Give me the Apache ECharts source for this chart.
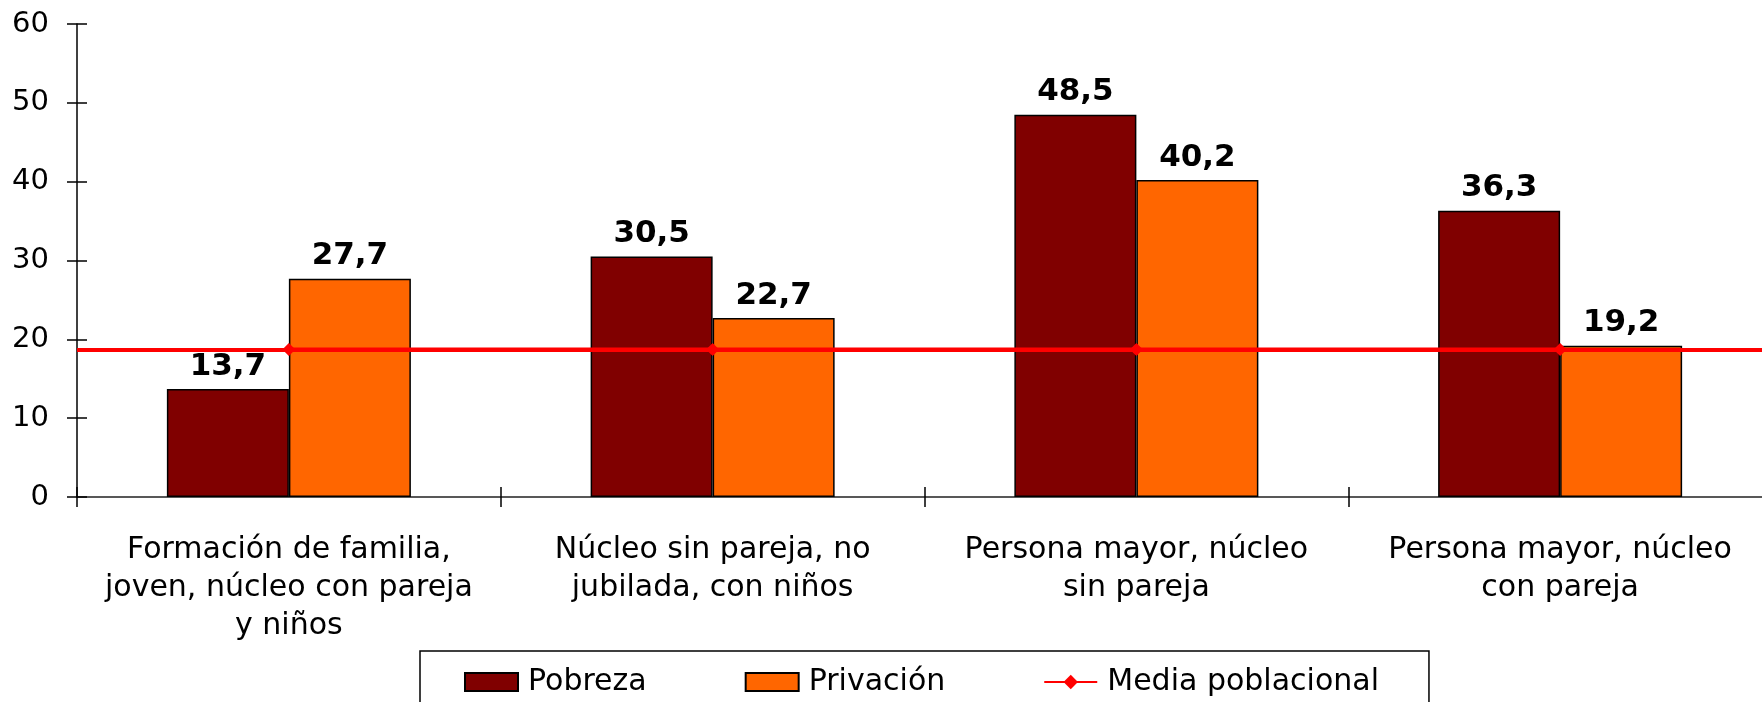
<!DOCTYPE html>
<html>
<head>
<meta charset="utf-8">
<title>Pobreza y privación</title>
<script src="https://cdn.jsdelivr.net/npm/echarts@6/dist/echarts.min.js"></script>
<style>
  html, body { margin: 0; padding: 0; background: #fff; }
  #chart { width: 1762px; height: 702px; }
</style>
</head>
<body>
<div id="chart"></div>
<script>
// datos
const categorias = [
    'Formación de familia,\njoven, núcleo con pareja\ny niños',
    'Núcleo sin pareja, no\njubilada, con niños',
    'Persona mayor, núcleo\nsin pareja',
    'Persona mayor, núcleo\ncon pareja'
];
const pobreza = [13.7, 30.5, 48.5, 36.3];
const privacion = [27.7, 22.7, 40.2, 19.2];
const mediaPoblacional = [18.7, 18.7, 18.7, 18.7];
const ejeY = { min: 0, max: 60, interval: 10 };

const fuente = 'DejaVu Sans';

let myChart = echarts.init(document.getElementById('chart'));

function coma(v) {
    return v.toFixed(1).replace('.', ',');
}

const etiquetaBarra = {
    show: true,
    position: 'top',
    distance: 7,
    fontFamily: fuente,
    fontWeight: 'bold',
    fontSize: 31,
    color: '#000',
    formatter: p => coma(p.value)
};

let option = {
    animation: false,
    backgroundColor: '#fff',
    grid: { left: 77, right: -10, top: 24, bottom: 205, containLabel: false, outerBoundsMode: 'none' },
    legend: {
        left: 420,
        top: 651,
        padding: [16, 50, 30, 44],
        borderColor: '#000',
        borderWidth: 1.5,
        itemWidth: 53,
        itemHeight: 18,
        itemGap: 98,
        textStyle: { fontFamily: fuente, fontSize: 30, color: '#000', padding: [0, 0, 0, 5] },
        data: [
            { name: 'Pobreza', icon: 'rect' },
            { name: 'Privación', icon: 'rect' },
            { name: 'Media poblacional' }
        ]
    },
    xAxis: [{
        type: 'category',
        data: categorias,
        position: 'bottom',
        axisLine: { lineStyle: { color: '#222', width: 1.5 } },
        axisTick: { show: true, inside: false, length: 10, lineStyle: { color: '#000', width: 1.5 } },
        axisLabel: {
            fontFamily: fuente, fontSize: 30, color: '#000',
            margin: 34, lineHeight: 38, interval: 0, align: 'center'
        },
        splitLine: { show: false }
    }, {
        // marcas hacia dentro para que crucen el eje
        type: 'category',
        data: categorias,
        position: 'bottom',
        axisLine: { show: false },
        axisTick: { show: true, inside: true, length: 10, lineStyle: { color: '#000', width: 1.5 } },
        axisLabel: { show: false },
        splitLine: { show: false }
    }],
    yAxis: [{
        type: 'value',
        min: ejeY.min, max: ejeY.max, interval: ejeY.interval,
        position: 'left',
        axisLine: { show: true, lineStyle: { color: '#000', width: 1.5 } },
        axisTick: { show: true, inside: false, length: 10, lineStyle: { color: '#000', width: 1.5 } },
        axisLabel: { fontFamily: fuente, fontSize: 29, color: '#000', margin: 28 },
        splitLine: { show: false }
    }, {
        type: 'value',
        min: ejeY.min, max: ejeY.max, interval: ejeY.interval,
        position: 'left',
        axisLine: { show: false },
        axisTick: { show: true, inside: true, length: 10, lineStyle: { color: '#000', width: 1.5 } },
        axisLabel: { show: false },
        splitLine: { show: false }
    }],
    series: [{
        name: 'Pobreza',
        type: 'bar',
        data: pobreza,
        barWidth: 122,
        barGap: '0%',
        itemStyle: { color: '#800000', borderColor: '#000', borderWidth: 1.5 },
        label: etiquetaBarra
    }, {
        name: 'Privación',
        type: 'bar',
        data: privacion,
        barWidth: 122,
        barGap: '0%',
        itemStyle: { color: '#FF6600', borderColor: '#000', borderWidth: 1.5 },
        label: etiquetaBarra
    }, {
        name: 'Media poblacional',
        type: 'line',
        data: mediaPoblacional,
        symbol: 'diamond',
        symbolSize: 13,
        z: 5,
        itemStyle: { color: '#FF0000' },
        lineStyle: { color: '#FF0000', width: 4 },
        markLine: {
            silent: true,
            symbol: 'none',
            label: { show: false },
            lineStyle: { color: '#FF0000', width: 4, type: 'solid' },
            data: [{ yAxis: mediaPoblacional[0] }]
        }
    }]
};

myChart.setOption(option);
</script>
</body>
</html>
